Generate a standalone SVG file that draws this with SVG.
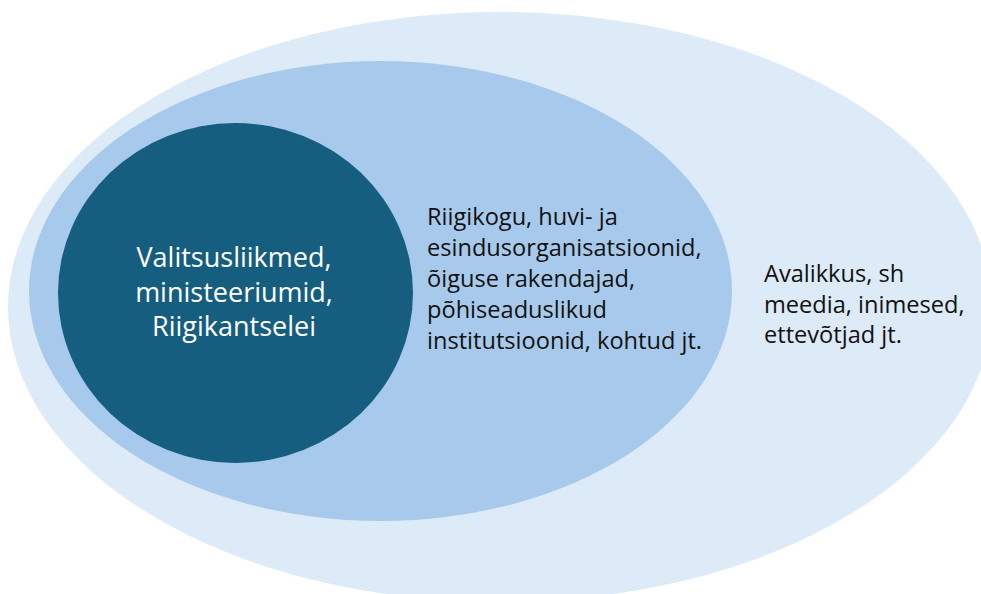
<svg xmlns="http://www.w3.org/2000/svg" width="981" height="594" viewBox="0 0 981 594">
<style>
.t{font-family:"Open Sans","Liberation Sans",sans-serif;font-size:23.6px;fill:#111111}
.w{font-family:"Open Sans","Liberation Sans",sans-serif;font-size:27px;fill:#ffffff;text-anchor:middle}
</style>
<rect width="981" height="594" fill="#ffffff"/>
<g id="outer">
<ellipse cx="500" cy="307" rx="492" ry="295" fill="#DDEAF7"/>
<text class="t"><tspan x="764" y="282">Avalikkus, sh</tspan><tspan x="764" y="313">meedia, inimesed,</tspan><tspan x="764" y="343">ettevõtjad jt.</tspan></text>
</g>
<g id="middle">
<ellipse cx="380.5" cy="291" rx="351.5" ry="230" fill="#A7CAEC"/>
<text class="t"><tspan x="427" y="225">Riigikogu, huvi- ja</tspan><tspan x="427" y="256">esindusorganisatsioonid,</tspan><tspan x="427" y="287">õiguse rakendajad,</tspan><tspan x="427" y="318">põhiseaduslikud</tspan><tspan x="427" y="349">institutsioonid, kohtud jt.</tspan></text>
</g>
<g id="inner">
<ellipse cx="235.5" cy="293" rx="177.5" ry="170" fill="#165E80"/>
<text class="w"><tspan x="234" y="267">Valitsusliikmed,</tspan><tspan x="234" y="301.5">ministeeriumid,</tspan><tspan x="234" y="336">Riigikantselei</tspan></text>
</g>
<g id="connectors"/>
</svg>
